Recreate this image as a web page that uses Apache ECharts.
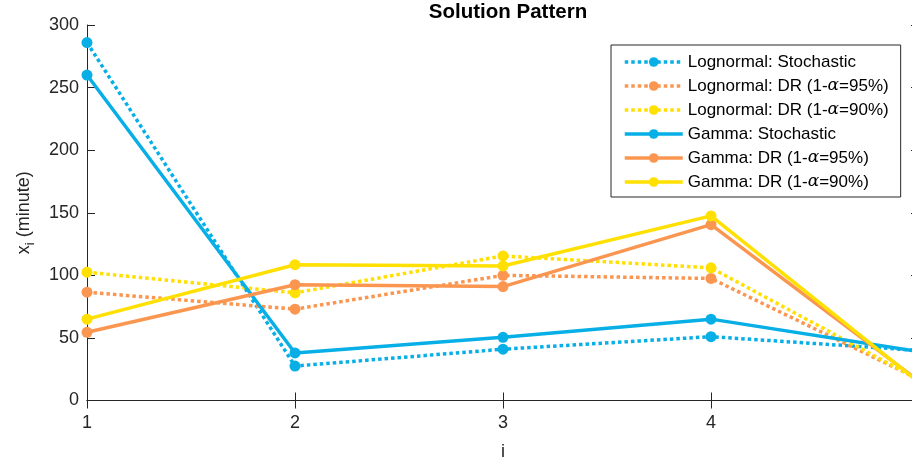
<!DOCTYPE html>
<html><head><meta charset="utf-8">
<script src="https://cdn.jsdelivr.net/npm/echarts@6/dist/echarts.min.js"></script>
<style>html,body{margin:0;padding:0;background:#fff}#c{width:912px;height:460px}</style>
</head><body><div id="c"></div>
<script>
const xValues = [1, 2, 3, 4, 5];
const seriesNames = [
  'Lognormal: Stochastic',
  'Lognormal: DR (1-α=95%)',
  'Lognormal: DR (1-α=90%)',
  'Gamma: Stochastic',
  'Gamma: DR (1-α=95%)',
  'Gamma: DR (1-α=90%)'
];
const lnStochastic = [286, 27.5, 41, 51, 40];
const lnDR95 = [86.5, 73, 100, 97.5, 17];
const lnDR90 = [102.5, 86, 115.5, 106, 16.5];
const gammaStochastic = [260, 38, 50.5, 65, 39];
const gammaDR95 = [54.5, 92.5, 91, 140.5, 15.5];
const gammaDR90 = [65, 108.5, 107.5, 147.5, 14.5];
const yTicks = [0, 50, 100, 150, 200, 250, 300];

const BLUE = '#08AFE6', ORANGE = '#FB9651', YELLOW = '#FFE000';
const FONT = '"Liberation Sans", Arial, Helvetica, sans-serif';
const dataSets = [lnStochastic, lnDR95, lnDR90, gammaStochastic, gammaDR95, gammaDR90];
const colors = [BLUE, ORANGE, YELLOW, BLUE, ORANGE, YELLOW];
const dotted = [true, true, true, false, false, false];

const series = dataSets.map((d, k) => ({
  name: seriesNames[k],
  type: 'line',
  data: d.map((v, i) => [xValues[i], v]),
  symbol: 'circle',
  symbolSize: 11,
  showAllSymbol: true,
  color: colors[k],
  itemStyle: { color: colors[k] },
  lineStyle: { color: colors[k], width: 3.5, type: dotted[k] ? [3.5, 3] : 'solid', cap: 'butt' },
  emphasis: { disabled: true },
  animation: false,
  clip: false,
  z: 2 + k
}));

const legendData = seriesNames.map((n, k) => ({
  name: n,
  lineStyle: { width: 3.5, color: colors[k], type: dotted[k] ? [3.5, 3] : 'solid' },
  itemStyle: { color: colors[k] }
}));

const axisLineStyle = { color: '#262626', width: 1 };
const chart = echarts.init(document.getElementById('c'), null, { renderer: 'canvas' });
chart.setOption({
  animation: false,
  backgroundColor: '#fff',
  title: {
    text: 'Solution Pattern', left: 503, top: -3, textAlign: 'center',
    textStyle: { fontFamily: FONT, fontWeight: 'bold', fontSize: 20.5, color: '#000' }
  },
  grid: { left: 87, top: 25, width: 832, height: 375.5, containLabel: false, outerBoundsMode: 'none' },
  xAxis: [{
    type: 'value', min: 1, max: 5, interval: 1, position: 'bottom',
    name: 'i', nameLocation: 'middle', nameGap: 43,
    nameTextStyle: { fontFamily: FONT, fontSize: 18, color: '#262626' },
    axisLine: { show: true, lineStyle: axisLineStyle },
    axisTick: { show: true, inside: true, length: 8, lineStyle: axisLineStyle },
    axisLabel: { fontFamily: FONT, fontSize: 18, color: '#262626', margin: 14 },
    splitLine: { show: false }
  }, {
    type: 'value', min: 1, max: 5, interval: 1, position: 'top',
    axisLine: { show: true, lineStyle: axisLineStyle },
    axisTick: { show: true, inside: true, length: 8, lineStyle: axisLineStyle },
    axisLabel: { show: false }, splitLine: { show: false }
  }],
  yAxis: [{
    type: 'value', min: 0, max: 300, interval: 50, position: 'left',
    name: '{x|x}{s|i}{n| (minute)}', nameLocation: 'middle', nameGap: 50, nameRotate: 90,
    nameTextStyle: {
      fontFamily: FONT, fontSize: 18, color: '#262626',
      rich: {
        x: { fontFamily: FONT, fontSize: 18, color: '#262626' },
        s: { fontFamily: FONT, fontSize: 13, color: '#262626', padding: [12, 0, 0, 0] },
        n: { fontFamily: FONT, fontSize: 18, color: '#262626' }
      }
    },
    axisLine: { show: true, lineStyle: axisLineStyle },
    axisTick: { show: true, inside: true, length: 8, lineStyle: axisLineStyle },
    axisLabel: { fontFamily: FONT, fontSize: 18, color: '#262626', margin: 8,
      formatter: v => yTicks.includes(v) ? String(v) : '' },
    splitLine: { show: false }
  }, {
    type: 'value', min: 0, max: 300, interval: 50, position: 'right',
    axisLine: { show: true, lineStyle: axisLineStyle },
    axisTick: { show: true, inside: true, length: 8, lineStyle: axisLineStyle },
    axisLabel: { show: false }, splitLine: { show: false }
  }],
  legend: {
    orient: 'vertical', left: 611, top: 45,
    padding: [7, 12, 5, 12],
    itemWidth: 58, itemHeight: 12, itemGap: 4,
    backgroundColor: '#fff', borderColor: '#262626', borderWidth: 1, borderRadius: 0,
    data: legendData,
    selectedMode: false,
    lineStyle: { width: 3.5 },
    formatter: name => name.replace('α', '{a|α}'),
    textStyle: {
      fontFamily: FONT, fontSize: 17, color: '#000', lineHeight: 20, padding: [0, 0, 0, 0],
      rich: { a: { fontFamily: '"DejaVu Serif", serif', fontStyle: 'italic', fontSize: 17, color: '#000', lineHeight: 20 } }
    }
  },
  series: series
});
</script></body></html>
